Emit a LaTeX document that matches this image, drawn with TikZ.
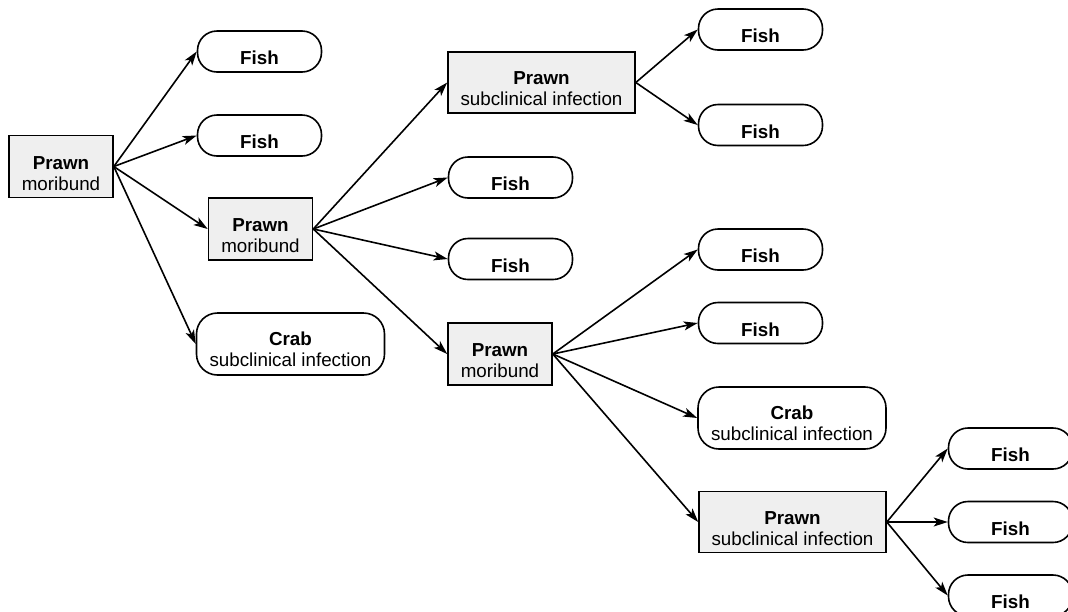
\documentclass[tikz,border=0pt]{standalone}
\usepackage{fontspec}
\setmainfont{Liberation Sans}
\usetikzlibrary{arrows.meta}
\definecolor{boxgray}{RGB}{239,239,239}
\begin{document}
\begin{tikzpicture}[x=1pt,y=-1pt,
  every node/.style={font=\fontsize{18.8}{21}\selectfont},
  prawnbox/.style={draw=black, line width=1.6pt, fill=boxgray, rectangle,
    minimum width=104pt, minimum height=62pt, inner sep=0pt},
  prawnwide/.style={prawnbox, minimum width=187pt, minimum height=61pt},
  fishbox/.style={draw=black, line width=1.6pt, fill=white, rectangle,
    rounded corners=19.5pt, minimum width=124pt, minimum height=41pt, inner sep=0pt},
  crabbox/.style={draw=black, line width=1.6pt, fill=white, rectangle,
    rounded corners=21pt, minimum width=188pt, minimum height=62pt, inner sep=0pt},
  hostname/.style={font=\fontsize{18.8}{21}\selectfont\bfseries, anchor=base, inner sep=0pt},
  hoststate/.style={anchor=base, inner sep=0pt},
  link/.style={-{Stealth[length=14pt,width=9pt,inset=3.5pt]}, line width=1.6pt}
]
\useasboundingbox (0,0) rectangle (1068,611);

% boxes
\node[prawnbox]  (p1) at (61,166.5) {};
\node[prawnbox]  (p2) at (260.5,229) {};
\node[prawnbox]  (p4) at (500,354) {};
\node[prawnwide] (p3) at (541.5,82.5) {};
\node[prawnwide] (p5) at (792.5,522) {};
\node[crabbox]   (c1) at (290.5,344) {};
\node[crabbox]   (c2) at (792,418) {};
\node[fishbox]   (fa) at (259.5,51.5) {};
\node[fishbox]   (fb) at (259.5,135.5) {};
\node[fishbox]   (fc) at (510.5,177.5) {};
\node[fishbox]   (fd) at (510.5,259) {};
\node[fishbox]   (fe) at (760.5,29.5) {};
\node[fishbox]   (ff) at (760.5,125) {};
\node[fishbox]   (fg) at (760.5,249.5) {};
\node[fishbox]   (fh) at (760.5,323) {};
\node[fishbox]   (fi) at (1010.5,448.5) {};
\node[fishbox]   (fj) at (1010.5,522) {};
\node[fishbox]   (fk) at (1010.5,595.5) {};

% labels
\foreach \b/\s in {p1/moribund, p2/moribund, p4/moribund,
                   p3/subclinical infection, p5/subclinical infection}{
  \node[hostname]  (\b-name)  at ([yshift=29pt]\b.south) {Prawn};
  \node[hoststate] (\b-state) at ([yshift=8pt]\b.south) {\s};
}
\foreach \b in {c1,c2}{
  \node[hostname]  (\b-name)  at ([yshift=30pt]\b.south) {Crab};
  \node[hoststate] (\b-state) at ([yshift=9.5pt]\b.south) {subclinical infection};
}
\foreach \b in {fa,fb,fc,fd,fe,ff,fg,fh,fi,fj,fk}{
  \node[hostname] (\b-name) at ([yshift=8pt]\b.south) {Fish};
}

% transmission links
\foreach \a/\b in {p1/fa, p1/fb, p1/p2, p1/c1,
                   p2/p3, p2/fc, p2/fd, p2/p4,
                   p3/fe, p3/ff,
                   p4/fg, p4/fh, p4/c2, p4/p5,
                   p5/fi, p5/fj, p5/fk}{
  \draw[link] (\a.east) -- (\b.west);
}
\end{tikzpicture}
\end{document}
